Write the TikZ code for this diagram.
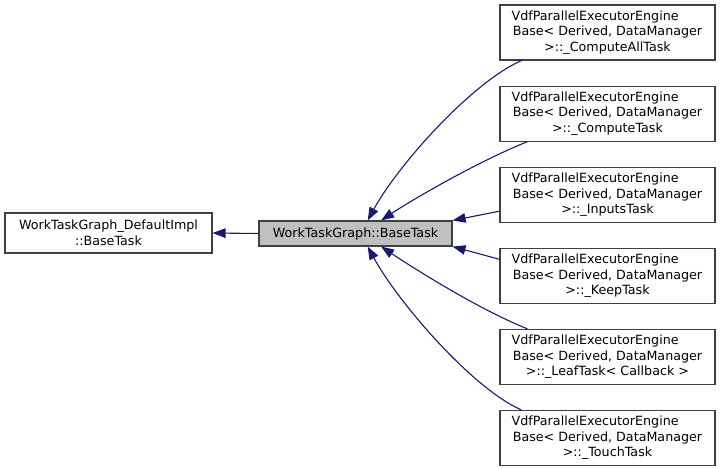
\documentclass[tikz,border=0pt]{standalone}
\usepackage{fontspec}
\setmainfont{DejaVu Sans}
\usepackage{tikz}
\usetikzlibrary{arrows.meta,positioning}
\definecolor{edgeblue}{RGB}{25,25,112}
\definecolor{nodegray}{RGB}{191,191,191}
\newcommand{\enginetask}[1]{VdfParallelExecutorEngine\hphantom{mm}\\Base< Derived, DataManager\\ >::\_#1}
\tikzset{>={Triangle[length=13pt,width=9.5pt]},
         cls/.style={draw=black!75, line width=1.1pt, align=center, inner sep=0pt,
                     font=\fontsize{12.7}{15.5}\selectfont},
         subcls/.style={cls, minimum width=215pt, minimum height=55pt},
         inherit/.style={->, color=edgeblue, line width=1.1pt}}

\begin{document}
\begin{tikzpicture}[x=1pt, y=-1pt]
	\useasboundingbox (0,0) rectangle (720,467);

	\node[cls, minimum width=207pt, minimum height=40pt] (base) at (108.5,233)
		{WorkTaskGraph\_DefaultImpl\\::BaseTask};
	\node[cls, fill=nodegray, minimum width=193pt, minimum height=25pt] (bt) at (355.5,233.5)
		{WorkTaskGraph::BaseTask};

	\node[subcls] (c1) at (607.5,32.5) {\enginetask{ComputeAllTask}};
	\node[subcls, below=25pt of c1] (c2) {\enginetask{ComputeTask}};
	\node[subcls, below=25pt of c2] (c3) {\enginetask{InputsTask}};
	\node[subcls, below=25pt of c3] (c4) {\enginetask{KeepTask}};
	\node[subcls, below=25pt of c4] (c5) {\enginetask{LeafTask< Callback >}};
	\node[subcls, below=25pt of c5] (c6) {\enginetask{TouchTask}};

	\draw[inherit] (bt.west) -- (base.east);
	\draw[inherit] ([xshift=22pt]c1.south west) .. controls +(-50,22) and +(30,-55) .. (bt.47);
	\draw[inherit] ([xshift=28pt]c2.south west) .. controls +(-50,20) and +(30,-20) .. (bt.27);
	\draw[inherit] ([yshift=-16.5pt]c3.west) -- (bt.north east);
	\draw[inherit] ([yshift=16.5pt]c4.west) -- (bt.south east);
	\draw[inherit] ([xshift=28pt]c5.north west) .. controls +(-50,-20) and +(30,20) .. (bt.-27);
	\draw[inherit] ([xshift=22pt]c6.north west) .. controls +(-50,-22) and +(30,55) .. (bt.-47);
\end{tikzpicture}
\end{document}
